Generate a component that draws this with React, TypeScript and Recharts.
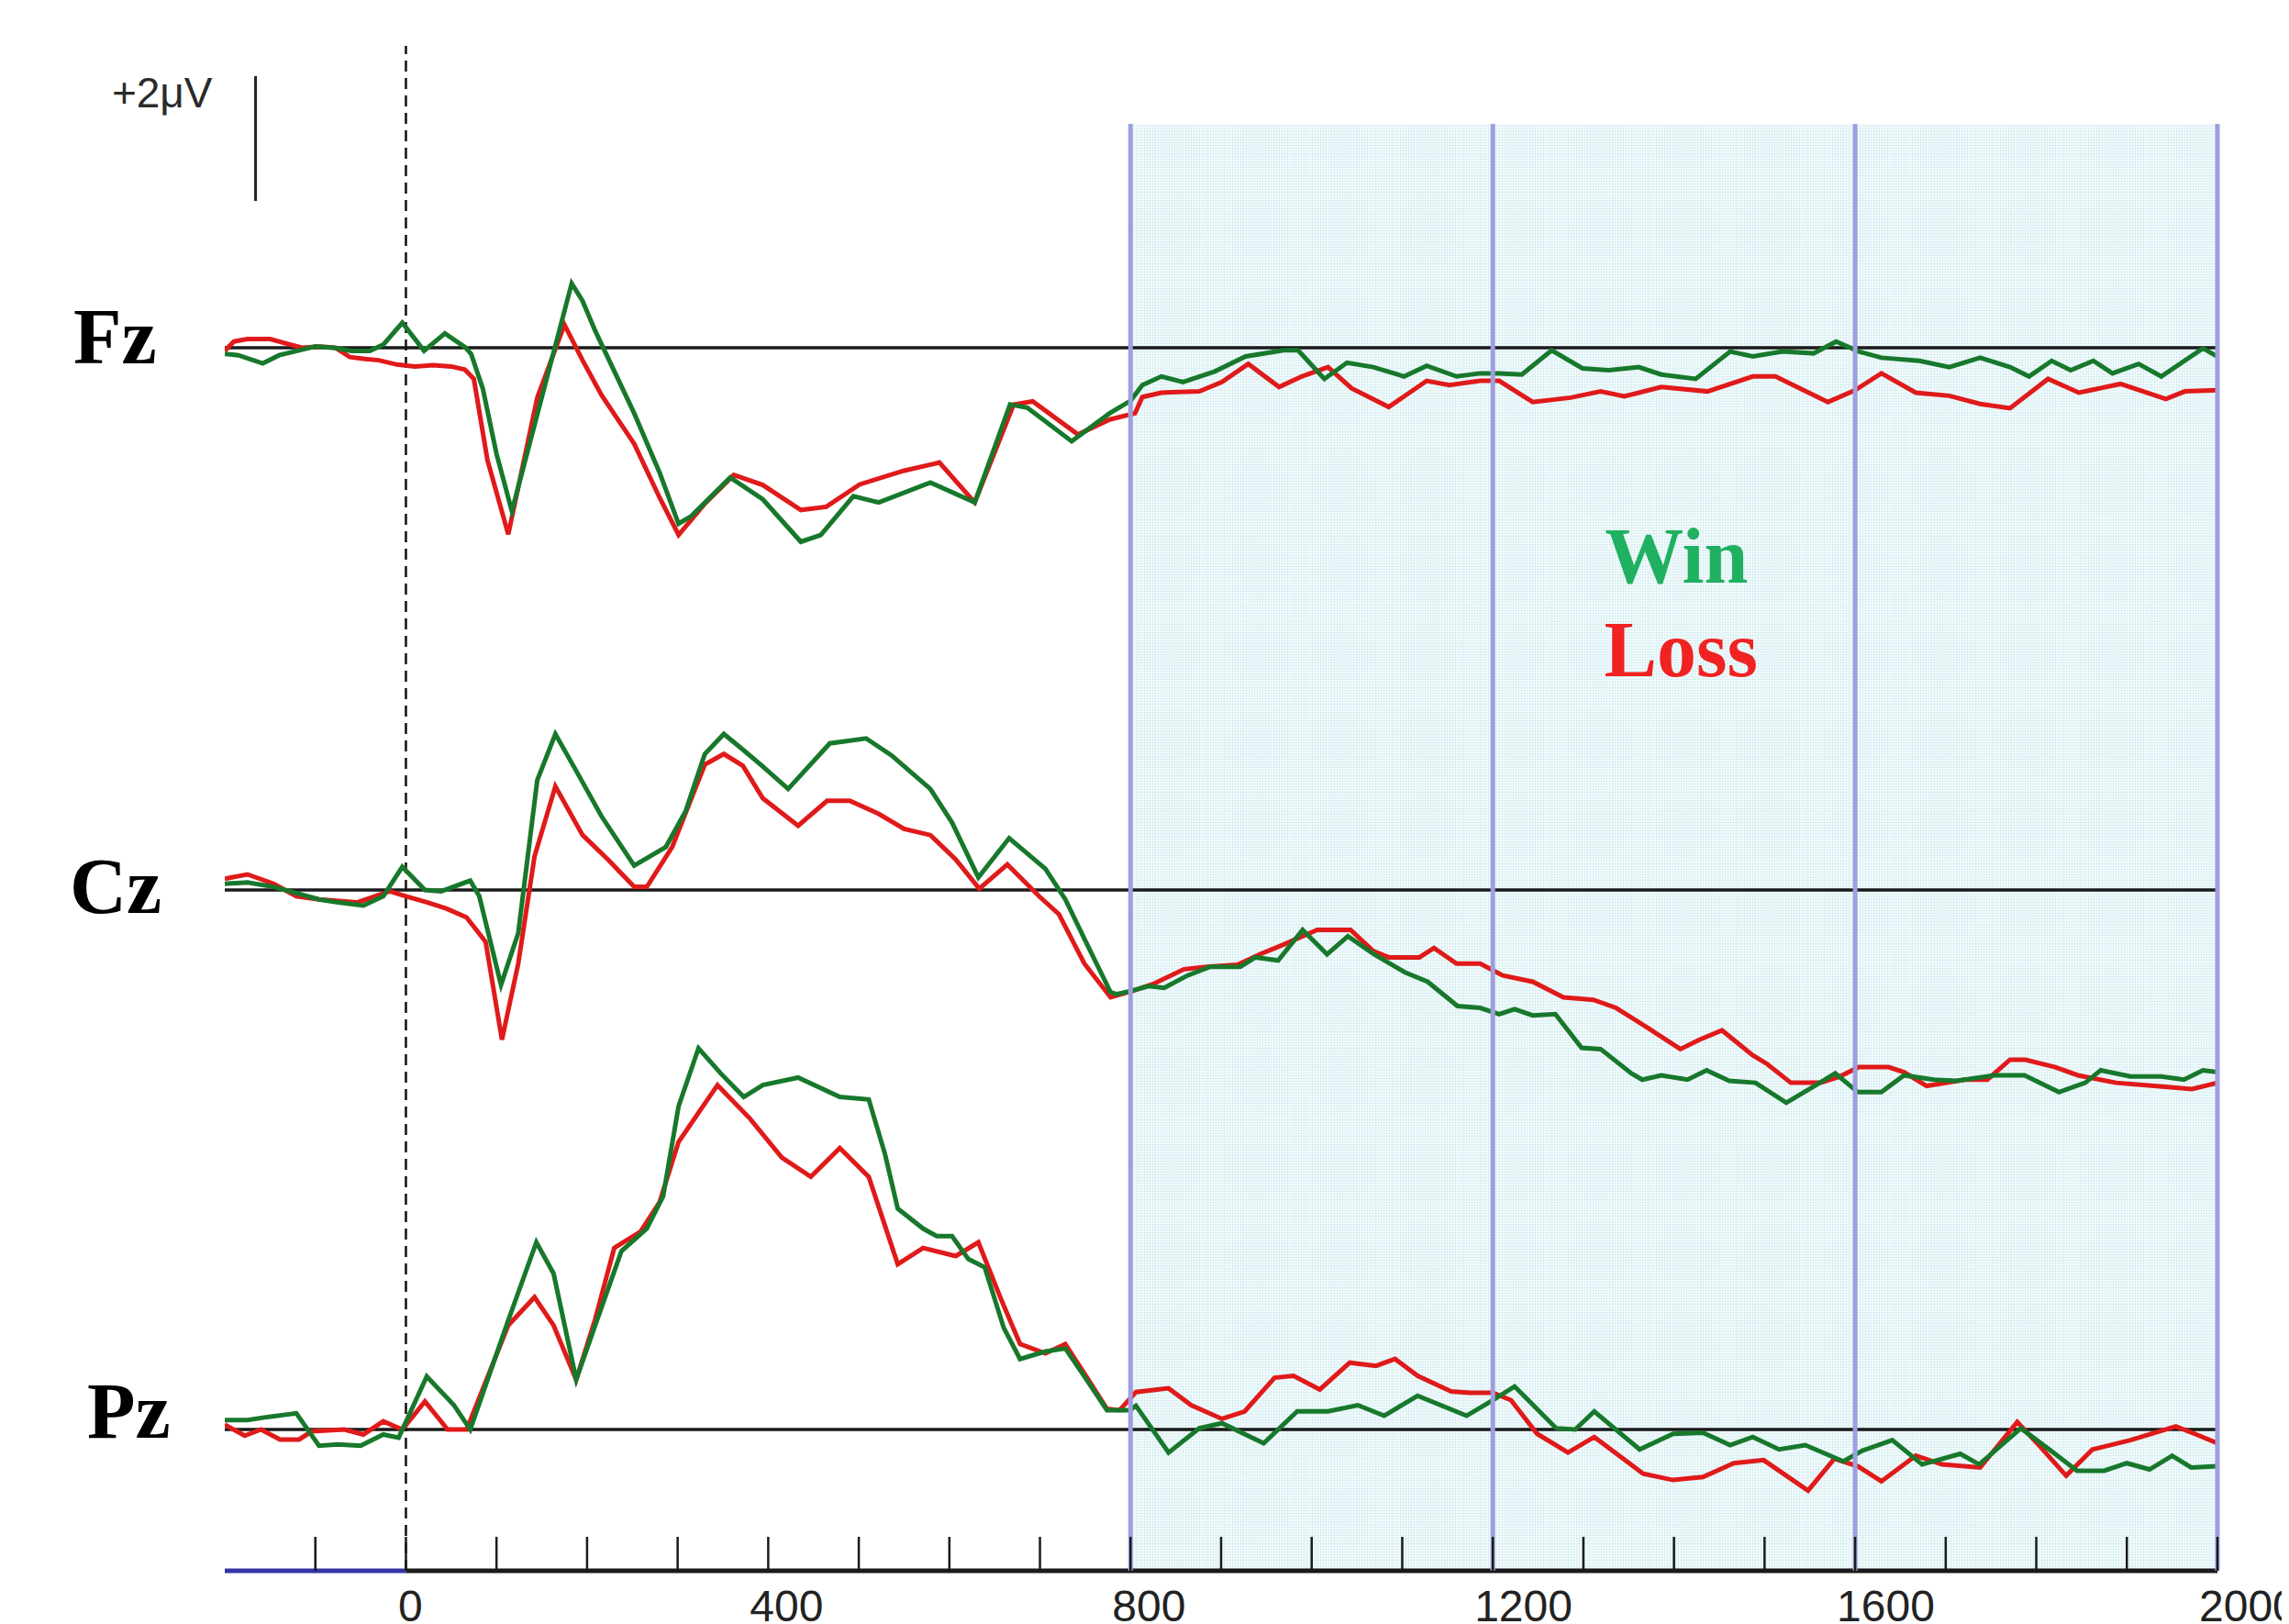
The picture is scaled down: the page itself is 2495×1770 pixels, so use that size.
import React from 'react';
import { LineChart, Line, XAxis, YAxis, ReferenceLine, ReferenceArea } from 'recharts';

type P = [number, number];

// ---- data: [time (ms), amplitude (µV)] ----
const fzWin: P[] = [
  [-200, -0.1], [-185, -0.12], [-158, -0.25], [-140, -0.12], [-120, -0.05], [-100, 0.02], [-80, 0.0], [-60, -0.05],
  [-40, -0.05], [-25, 0.05], [-4, 0.4], [20, -0.05], [43, 0.23], [66, 0.0], [72, -0.1], [85, -0.66], [100, -1.7],
  [117, -2.62], [183, 1.03], [195, 0.75], [209, 0.27], [252, -1.05], [280, -2.0], [301, -2.82], [315, -2.7],
  [358, -2.08], [394, -2.43], [436, -3.11], [458, -3.0], [494, -2.38], [522, -2.48], [579, -2.16], [628, -2.48],
  [667, -0.91], [686, -0.96], [735, -1.5], [777, -1.05], [800, -0.85], [813, -0.6], [834, -0.46], [858, -0.55],
  [893, -0.38], [927, -0.14], [969, -0.04], [985, -0.04], [1014, -0.5], [1039, -0.24], [1068, -0.31], [1102, -0.46],
  [1127, -0.29], [1160, -0.46], [1186, -0.41], [1207, -0.41], [1232, -0.43], [1265, -0.04], [1299, -0.33],
  [1328, -0.36], [1361, -0.31], [1386, -0.43], [1424, -0.5], [1462, -0.06], [1487, -0.14], [1520, -0.06],
  [1554, -0.09], [1579, 0.1], [1604, -0.06], [1629, -0.16], [1671, -0.21], [1704, -0.31], [1738, -0.16],
  [1771, -0.31], [1792, -0.46], [1817, -0.21], [1838, -0.36], [1863, -0.21], [1884, -0.41], [1913, -0.26],
  [1938, -0.46], [1984, -0.01], [2000, -0.14],
];
const fzLoss: P[] = [
  [-200, -0.05], [-190, 0.1], [-175, 0.14], [-150, 0.14], [-135, 0.08], [-115, 0.0], [-95, 0.02], [-78, 0.0],
  [-62, -0.15], [-45, -0.18], [-30, -0.2], [-10, -0.27], [10, -0.3], [30, -0.28], [50, -0.3], [65, -0.35],
  [75, -0.5], [90, -1.8], [113, -2.99], [145, -0.8], [175, 0.37], [195, -0.2], [216, -0.76], [252, -1.54],
  [280, -2.4], [301, -3.0], [330, -2.5], [362, -2.04], [394, -2.2], [436, -2.6], [464, -2.55], [501, -2.19],
  [550, -1.97], [589, -1.84], [628, -2.48], [671, -0.91], [692, -0.86], [742, -1.39], [777, -1.15], [805, -1.05],
  [813, -0.79], [834, -0.72], [876, -0.7], [901, -0.55], [930, -0.26], [964, -0.63], [989, -0.46], [1018, -0.31],
  [1044, -0.65], [1085, -0.95], [1127, -0.53], [1152, -0.6], [1186, -0.53], [1207, -0.53], [1244, -0.87],
  [1286, -0.8], [1319, -0.7], [1345, -0.78], [1386, -0.63], [1437, -0.7], [1487, -0.46], [1512, -0.46],
  [1570, -0.87], [1600, -0.68], [1629, -0.41], [1667, -0.72], [1704, -0.77], [1738, -0.9], [1771, -0.97],
  [1813, -0.5], [1847, -0.72], [1893, -0.58], [1943, -0.82], [1964, -0.7], [2000, -0.68],
];
const czWin: P[] = [
  [-200, 0.1], [-175, 0.12], [-146, 0.05], [-121, -0.05], [-96, -0.15], [-75, -0.2], [-47, -0.25], [-25, -0.1],
  [-4, 0.37], [21, 0.0], [39, -0.02], [71, 0.15], [81, -0.1], [105, -1.52], [124, -0.69], [145, 1.76], [165, 2.5],
  [188, 1.91], [216, 1.18], [252, 0.39], [287, 0.69], [309, 1.27], [330, 2.18], [351, 2.5], [372, 2.25],
  [394, 1.98], [422, 1.62], [468, 2.35], [508, 2.43], [536, 2.16], [579, 1.62], [603, 1.08], [632, 0.2],
  [666, 0.83], [706, 0.34], [728, -0.15], [749, -0.78], [778, -1.64], [785, -1.67], [800, -1.62], [820, -1.54],
  [837, -1.57], [863, -1.37], [888, -1.23], [921, -1.23], [938, -1.08], [963, -1.13], [990, -0.64], [1017, -1.03],
  [1040, -0.74], [1069, -1.03], [1103, -1.32], [1128, -1.47], [1161, -1.86], [1186, -1.89], [1207, -1.99],
  [1224, -1.91], [1244, -2.01], [1269, -1.99], [1298, -2.53], [1319, -2.55], [1353, -2.94], [1365, -3.04],
  [1386, -2.97], [1415, -3.04], [1436, -2.89], [1461, -3.06], [1490, -3.09], [1524, -3.41], [1553, -3.16],
  [1578, -2.94], [1603, -3.24], [1629, -3.24], [1654, -2.97], [1687, -3.04], [1712, -3.06], [1754, -2.97],
  [1787, -2.97], [1825, -3.24], [1854, -3.09], [1871, -2.89], [1904, -2.99], [1938, -2.99], [1963, -3.04],
  [1984, -2.89], [2000, -2.92],
];
const czLoss: P[] = [
  [-200, 0.18], [-175, 0.25], [-146, 0.1], [-121, -0.1], [-96, -0.15], [-54, -0.2], [-18, -0.02], [0, -0.1],
  [24, -0.2], [45, -0.3], [67, -0.44], [88, -0.83], [106, -2.4], [124, -1.18], [142, 0.54], [165, 1.66],
  [195, 0.88], [223, 0.49], [252, 0.05], [266, 0.05], [294, 0.69], [330, 2.01], [351, 2.18], [372, 1.99],
  [394, 1.47], [433, 1.03], [465, 1.43], [490, 1.43], [522, 1.22], [550, 0.98], [579, 0.88], [607, 0.49],
  [633, 0.02], [664, 0.41], [699, -0.1], [721, -0.39], [749, -1.18], [778, -1.72], [802, -1.62], [826, -1.5],
  [859, -1.27], [884, -1.23], [918, -1.2], [943, -1.03], [968, -0.88], [1006, -0.64], [1043, -0.64], [1068, -0.98],
  [1085, -1.08], [1119, -1.08], [1135, -0.93], [1160, -1.18], [1186, -1.18], [1211, -1.37], [1244, -1.47],
  [1278, -1.72], [1311, -1.76], [1336, -1.89], [1370, -2.2], [1407, -2.55], [1428, -2.4], [1453, -2.25],
  [1487, -2.65], [1503, -2.79], [1529, -3.09], [1562, -3.09], [1583, -2.99], [1604, -2.84], [1637, -2.84],
  [1654, -2.92], [1679, -3.14], [1721, -3.04], [1746, -3.04], [1771, -2.72], [1788, -2.72], [1821, -2.84],
  [1846, -2.97], [1888, -3.09], [1930, -3.14], [1972, -3.19], [2000, -3.09],
];
const pzWin: P[] = [
  [-200, 0.15], [-175, 0.15], [-153, 0.2], [-121, 0.26], [-96, -0.26], [-75, -0.24], [-50, -0.26], [-25, -0.08],
  [-8, -0.13], [23, 0.85], [53, 0.39], [71, 0.0], [113, 1.75], [144, 3.0], [163, 2.5], [188, 0.8], [209, 1.67],
  [238, 2.86], [266, 3.22], [284, 3.74], [301, 5.18], [323, 6.11], [348, 5.7], [373, 5.33], [394, 5.52],
  [433, 5.64], [479, 5.33], [511, 5.29], [529, 4.41], [543, 3.54], [571, 3.22], [586, 3.1], [603, 3.1],
  [621, 2.73], [639, 2.6], [660, 1.63], [678, 1.13], [706, 1.25], [728, 1.3], [749, 0.85], [774, 0.31],
  [799, 0.31], [806, 0.38], [842, -0.37], [876, 0.02], [901, 0.1], [947, -0.22], [984, 0.29], [1018, 0.29],
  [1051, 0.39], [1080, 0.22], [1117, 0.54], [1171, 0.22], [1200, 0.47], [1224, 0.69], [1270, 0.02], [1291, 0.0],
  [1312, 0.29], [1362, -0.32], [1399, -0.07], [1432, -0.05], [1462, -0.25], [1487, -0.12], [1516, -0.32],
  [1545, -0.25], [1587, -0.51], [1608, -0.34], [1641, -0.17], [1674, -0.56], [1716, -0.39], [1737, -0.56],
  [1783, 0.02], [1816, -0.34], [1845, -0.66], [1875, -0.66], [1900, -0.54], [1925, -0.64], [1950, -0.42],
  [1971, -0.61], [2000, -0.59],
];
const pzLoss: P[] = [
  [-200, 0.08], [-178, -0.1], [-160, 0.0], [-139, -0.16], [-118, -0.16], [-104, -0.03], [-68, 0.0], [-47, -0.08],
  [-25, 0.13], [-4, 0.0], [21, 0.45], [46, 0.0], [67, 0.0], [113, 1.67], [142, 2.12], [163, 1.67], [188, 0.8],
  [209, 1.77], [230, 2.91], [259, 3.17], [280, 3.64], [301, 4.61], [344, 5.52], [380, 4.98], [415, 4.36],
  [447, 4.05], [479, 4.51], [511, 4.05], [543, 2.65], [571, 2.91], [607, 2.78], [632, 3.0], [657, 2.09],
  [678, 1.37], [706, 1.22], [728, 1.37], [749, 0.9], [774, 0.33], [788, 0.31], [806, 0.6], [842, 0.66],
  [867, 0.39], [901, 0.17], [926, 0.29], [959, 0.83], [980, 0.86], [1009, 0.64], [1042, 1.07], [1071, 1.02],
  [1092, 1.13], [1117, 0.86], [1154, 0.61], [1175, 0.59], [1200, 0.59], [1220, 0.47], [1249, -0.07],
  [1283, -0.37], [1312, -0.12], [1366, -0.71], [1399, -0.81], [1432, -0.76], [1466, -0.54], [1499, -0.49],
  [1548, -0.98], [1577, -0.47], [1603, -0.59], [1629, -0.83], [1667, -0.42], [1696, -0.56], [1738, -0.61],
  [1779, 0.12], [1804, -0.27], [1833, -0.74], [1862, -0.32], [1904, -0.17], [1954, 0.05], [1975, -0.07],
  [2000, -0.22],
];

const channelNames = ['Fz', 'Cz', 'Pz'];
const xTicks = [-100, 0, 100, 200, 300, 400, 500, 600, 700, 800, 900, 1000, 1100, 1200, 1300, 1400, 1500, 1600, 1700, 1800, 1900, 2000];
const xTickLabels = [0, 400, 800, 1200, 1600, 2000];
const windowEdges = [800, 1200, 1600, 2000];
const xDomain: [number, number] = [-200, 2000];
const scaleBarUv = 2;
const scaleBarLabel = '+2μV';
const legendWin = 'Win';
const legendLoss = 'Loss';

// ---- layout / style ----
const W = 2487;
const H = 1762;
const M = { top: 42, right: 78, bottom: 0, left: 237 };
const X_AXIS_H = 58;
const PLOT_TOP = M.top;
const PLOT_BOTTOM = H - M.bottom - X_AXIS_H;
const PX_PER_UV = 68;
const BASELINE_PX = { Fz: 371, Cz: 962, Pz: 1550 } as Record<string, number>;
const LABEL_POS = { Fz: { dx: -165, dy: 17 }, Cz: { dx: -169, dy: 25 }, Pz: { dx: -150, dy: 9 } } as Record<string, { dx: number; dy: number }>;
const domainFor = (b: number): [number, number] => [-(PLOT_BOTTOM - b) / PX_PER_UV, (b - PLOT_TOP) / PX_PER_UV];
const fzDom = domainFor(BASELINE_PX.Fz);
const SHADE_TOP_UV = (BASELINE_PX.Fz - 127) / PX_PER_UV;
const SCALE_BAR_T = -166;
const SCALE_BAR_TOP_UV = (BASELINE_PX.Fz - 75) / PX_PER_UV;

const WIN_COLOR = '#17782b';
const LOSS_COLOR = '#e01a1a';
const TRACE_W = 5;
const SANS = '"Liberation Sans", Arial, sans-serif';
const SERIF = '"Liberation Serif", "Times New Roman", serif';

const rows = (pts: P[]) => pts.map(([t, v]) => ({ t, v }));

const series = [
  { id: 'Fz', win: fzWin, loss: fzLoss },
  { id: 'Cz', win: czWin, loss: czLoss },
  { id: 'Pz', win: pzWin, loss: pzLoss },
];

const AxisTick = (props: any) => {
  const { x, y, payload } = props;
  const v = payload.value as number;
  const lab = xTickLabels.includes(v);
  return (
    <g>
      <line x1={x} y1={y} x2={x} y2={y - 37} stroke="#1a1a1a" strokeWidth={2.5} />
      {lab && (
        <text
          x={v === 0 ? x + 5 : x - 20}
          y={y + 55}
          textAnchor={v === 0 ? 'middle' : 'start'}
          fontFamily={SANS}
          fontSize={48}
          fill="#222"
        >
          {String(v)}
        </text>
      )}
    </g>
  );
};

const ChannelLabel = (props: any) => {
  const { viewBox, text } = props;
  const p = LABEL_POS[text];
  return (
    <text x={viewBox.x + p.dx} y={viewBox.y + p.dy} fontFamily={SERIF} fontWeight="bold" fontSize={86} fill="#000">
      {text}
    </text>
  );
};

const ScaleLabel = (props: any) => {
  const { viewBox } = props;
  return (
    <text x={viewBox.x - 47} y={viewBox.y + 34} textAnchor="end" fontFamily={SANS} fontSize={46} fill="#2a2a2a">
      {scaleBarLabel}
    </text>
  );
};

const LegendLabel = (props: any) => {
  const { viewBox } = props;
  return (
    <g fontFamily={SERIF} fontWeight="bold" fontSize={86} textAnchor="middle">
      <text x={viewBox.x + 595} y={viewBox.y + 500} fill="#1fb060">{legendWin}</text>
      <text x={viewBox.x + 600} y={viewBox.y + 602} fill="#f02222">{legendLoss}</text>
    </g>
  );
};

export default function App() {
  return (
    <div style={{ width: W, height: H }}>
      <style>{'html,body{overflow:hidden}'}</style>
      <LineChart width={W} height={H} margin={M}>
        <defs>
          <pattern id="cyanGrid" width="3" height="3" patternUnits="userSpaceOnUse">
            <rect width="3" height="3" fill="#f6fcfd" />
            <path d="M0 0.5H3M0.5 0V3" stroke="#dcf0f3" strokeWidth="1" />
          </pattern>
        </defs>
        <XAxis
          type="number"
          dataKey="t"
          domain={xDomain}
          ticks={xTicks}
          interval={0}
          allowDataOverflow
          axisLine={false}
          tickLine={false}
          tickSize={0}
          tickMargin={0}
          height={X_AXIS_H}
          tick={<AxisTick />}
        />
        {channelNames.map((c) => (
          <YAxis key={c} yAxisId={c} type="number" domain={domainFor(BASELINE_PX[c])} allowDataOverflow hide />
        ))}
        <ReferenceArea
          yAxisId="Fz"
          x1={windowEdges[0]}
          x2={windowEdges[windowEdges.length - 1]}
          y1={fzDom[0]}
          y2={SHADE_TOP_UV}
          fill="url(#cyanGrid)"
          fillOpacity={1}
          stroke="none"
          label={<LegendLabel />}
        />
        {channelNames.map((c) => (
          <ReferenceLine key={'b' + c} yAxisId={c} y={0} stroke="#1a1a1a" strokeWidth={3.5} label={<ChannelLabel text={c} />} />
        ))}
        <ReferenceLine
          yAxisId="Fz"
          segment={[{ x: xDomain[0], y: fzDom[0] }, { x: 0, y: fzDom[0] }]}
          stroke="#3434a6"
          strokeWidth={5}
        />
        <ReferenceLine
          yAxisId="Fz"
          segment={[{ x: 0, y: fzDom[0] }, { x: xDomain[1], y: fzDom[0] }]}
          stroke="#1a1a1a"
          strokeWidth={5}
        />
        <ReferenceLine yAxisId="Fz" x={0} stroke="#111" strokeWidth={2.5} strokeDasharray="12 7" />
        <ReferenceLine
          yAxisId="Fz"
          segment={[{ x: SCALE_BAR_T, y: SCALE_BAR_TOP_UV - scaleBarUv }, { x: SCALE_BAR_T, y: SCALE_BAR_TOP_UV }]}
          stroke="#222"
          strokeWidth={3}
          label={<ScaleLabel />}
        />
        {series.map((s) => (
          <Line
            key={'l' + s.id}
            yAxisId={s.id}
            data={rows(s.loss)}
            dataKey="v"
            type="linear"
            stroke={LOSS_COLOR}
            strokeWidth={TRACE_W}
            dot={false}
            activeDot={false}
            isAnimationActive={false}
          />
        ))}
        {series.map((s) => (
          <Line
            key={'w' + s.id}
            yAxisId={s.id}
            data={rows(s.win)}
            dataKey="v"
            type="linear"
            stroke={WIN_COLOR}
            strokeWidth={TRACE_W}
            dot={false}
            activeDot={false}
            isAnimationActive={false}
          />
        ))}
        {windowEdges.map((e) => (
          <ReferenceLine
            key={'e' + e}
            yAxisId="Fz"
            segment={[{ x: e, y: fzDom[0] }, { x: e, y: SHADE_TOP_UV }]}
            stroke="#9e9ee0"
            strokeWidth={5}
          />
        ))}
      </LineChart>
    </div>
  );
}
